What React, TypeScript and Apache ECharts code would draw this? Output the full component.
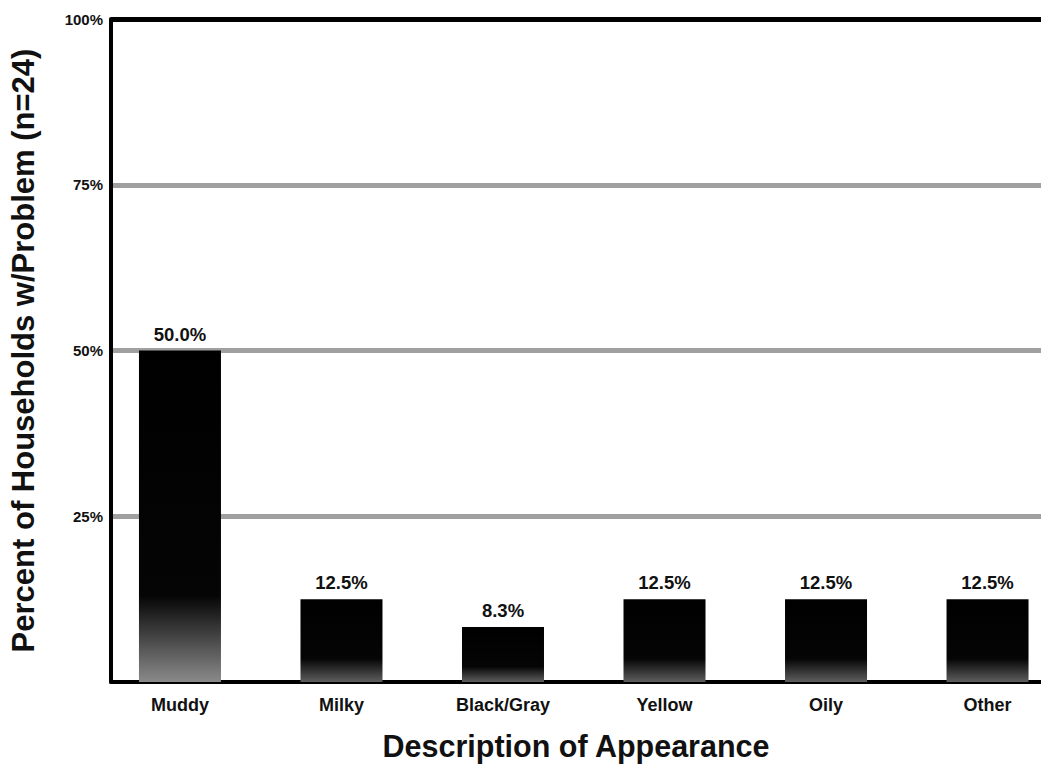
import React, { useEffect, useRef } from "react";
import * as echarts from "echarts";

const categories = ["Muddy", "Milky", "Black/Gray", "Yellow", "Oily", "Other"];
const values = [50.0, 12.5, 8.3, 12.5, 12.5, 12.5];
const yTicks = [0, 25, 50, 75, 100];

const FONT = "'Liberation Sans', Arial, Helvetica, sans-serif";

export default function App() {
  const ref = useRef<HTMLDivElement>(null);
  useEffect(() => {
    if (!ref.current) return;
    const chart = echarts.init(ref.current, null, { renderer: "svg" });
    const idx = categories.map((_, i) => i);
    const data = values.map((v, i) => ({
      value: [i, v],
      itemStyle: {
        color: new echarts.graphic.LinearGradient(0, 0, 0, 1, [
          { offset: 0, color: "#000" },
          { offset: i === 0 ? 0.74 : 0.72, color: "#050505" },
          { offset: 1, color: i === 0 ? "#8a8a8a" : "#5e5e5e" },
        ]),
      },
    }));
    chart.setOption({
      animation: false,
      backgroundColor: "#fff",
      grid: {
        left: 111,
        right: 0,
        top: 19,
        bottom: 85,
        containLabel: false,
        outerBoundsMode: "none",
      },
      xAxis: {
        type: "value",
        min: -0.427,
        max: 5.331,
        splitLine: { show: false },
        axisLine: { show: true, onZero: false, lineStyle: { color: "#000", width: 4 } },
        axisTick: { show: false },
        axisLabel: {
          customValues: idx,
          color: "#111",
          fontFamily: FONT,
          fontWeight: "bold",
          fontSize: 18,
          margin: 14,
          formatter: (v: number) => categories[Math.round(v)] ?? "",
        },
        name: "Description of Appearance",
        nameLocation: "middle",
        nameGap: 48,
        nameTextStyle: {
          color: "#111",
          fontFamily: FONT,
          fontWeight: "bold",
          fontSize: 30.5,
        },
      },
      yAxis: {
        type: "value",
        min: yTicks[0],
        max: yTicks[yTicks.length - 1],
        interval: 25,
        axisLine: { show: true, onZero: false, lineStyle: { color: "#000", width: 4 } },
        axisTick: { show: false },
        axisLabel: {
          color: "#111",
          fontFamily: FONT,
          fontWeight: "bold",
          fontSize: 15,
          margin: 8,
          formatter: (v: number) => (v === 0 ? "" : v + "%"),
        },
        splitLine: {
          show: true,
          lineStyle: {
            color: ["#fff", "#a0a0a0", "#a0a0a0", "#a0a0a0", "#000"],
            width: 5,
          },
        },
        name: "Percent of Households w/Problem (n=24)",
        nameLocation: "middle",
        nameGap: 72,
        nameRotate: 90,
        nameTextStyle: {
          color: "#111",
          fontFamily: FONT,
          fontWeight: "bold",
          fontSize: 31,
        },
      },
      series: [
        {
          type: "bar",
          data,
          barWidth: 82,
          label: {
            show: true,
            position: "top",
            distance: 7,
            color: "#111",
            fontFamily: FONT,
            fontWeight: "bold",
            fontSize: 18.5,
            formatter: (p: any) => p.value[1].toFixed(1) + "%",
          },
        },
      ],
    });
    return () => chart.dispose();
  }, []);
  return <div ref={ref} style={{ width: 1041, height: 767, position: "absolute", left: 0, top: 0 }} />;
}
